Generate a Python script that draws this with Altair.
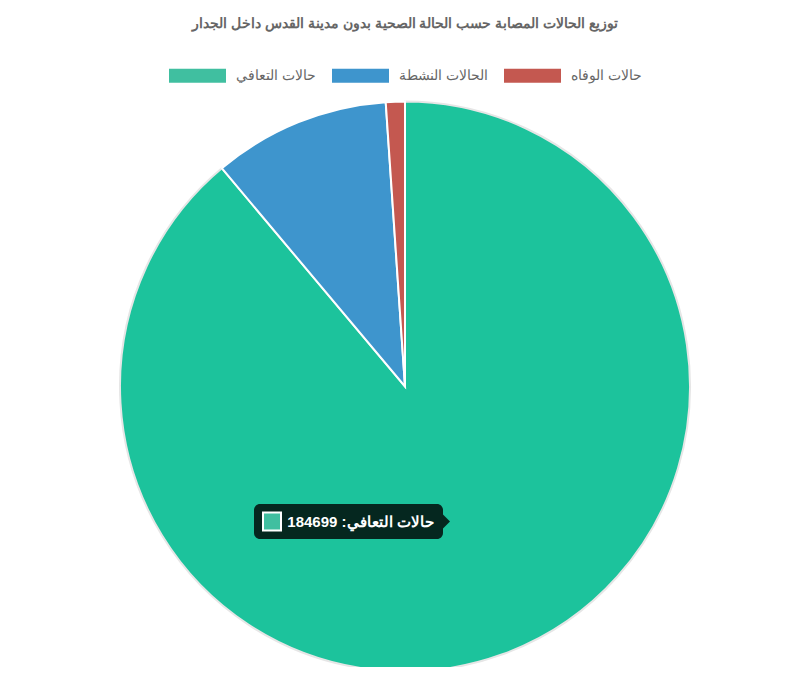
import altair as alt
import pandas as pd

# ---- data ----
title_text = "توزيع الحالات المصابة حسب الحالة الصحية بدون مدينة القدس داخل الجدار"
labels = ["حالات التعافي", "الحالات النشطة", "حالات الوفاه"]
values = [184699, 20850, 2240]
order = [0, 1, 2]
colors = ["#40bfa0", "#3e95cd", "#c45850"]
hover_color = "#1cc39c"          # hovered (highlighted) slice colour
tooltip_label = labels[0]
tooltip_value = values[0]

FONT = "Arial"
W, H = 794, 659
CX, CY, R = 397, 378.5, 285

df = pd.DataFrame({"label": labels, "value": values, "order": order})

rect_path = "M-1,-0.245L1,-0.245L1,0.245L-1,0.245Z"

pie = alt.Chart(df).mark_arc(radius=R, strokeWidth=2).encode(
    theta=alt.Theta("value:Q", stack=True),
    order=alt.Order("order:Q"),
    fill=alt.condition(
        alt.datum.label == labels[0],
        alt.value(hover_color),
        alt.Color(
            "label:N",
            scale=alt.Scale(domain=labels, range=colors),
            sort=labels,
            legend=alt.Legend(
                orient="none", legendX=161, legendY=39, direction="horizontal",
                title=None, symbolType=rect_path, symbolSize=3249,
                symbolStrokeWidth=0, symbolOpacity=1,
                labelFontSize=14, labelColor="#666666", labelFont=FONT,
                labelOffset=10, columnPadding=16, labelLimit=400, padding=0,
            ),
        ),
    ),
    stroke=alt.condition(alt.datum.label == labels[0], alt.value("#e6e6e6"), alt.value("white")),
    x=alt.value(CX),
    y=alt.value(CY),
)

title_df = pd.DataFrame({"t": [title_text]})
title = alt.Chart(title_df).mark_text(
    fontSize=14.2, fontWeight="bold", color="#666666", font=FONT, align="center", baseline="middle"
).encode(text="t:N", x=alt.value(397), y=alt.value(15.5))

tip_df = pd.DataFrame({"t": [f"{tooltip_label}: {tooltip_value}"]})
tip_box = alt.Chart(tip_df).mark_rect(fill="black", opacity=0.8, cornerRadius=6).encode(
    x=alt.value(246), x2=alt.value(435), y=alt.value(496), y2=alt.value(531)
)
tip_arrow = alt.Chart(tip_df).mark_point(
    shape="M0,-1L1,0L0,1Z", size=196, filled=True, fill="black", opacity=0.8, strokeWidth=0
).encode(x=alt.value(435), y=alt.value(513.5))
tip_swatch = alt.Chart(tip_df).mark_rect(fill=colors[0], stroke="white", strokeWidth=2).encode(
    x=alt.value(255), x2=alt.value(273), y=alt.value(504.5), y2=alt.value(522.5)
)
tip_text = alt.Chart(tip_df).mark_text(
    fontSize=15, fontWeight="bold", color="white", font=FONT, align="center", baseline="middle", dir="rtl"
).encode(text="t:N", x=alt.value(352.5), y=alt.value(513.5))

chart = alt.layer(pie, title, tip_box, tip_arrow, tip_swatch, tip_text).properties(
    width=W, height=H, autosize=alt.AutoSizeParams(type="none"), padding=0
).configure_view(stroke=None)

chart.save("out.html", embed_options={"renderer": "svg", "actions": False})
